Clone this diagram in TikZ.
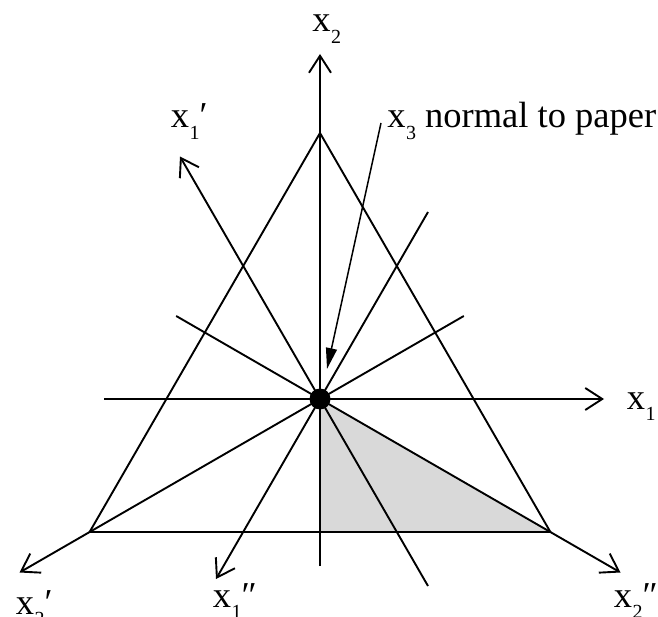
\documentclass[tikz,border=0pt]{standalone}
\usepackage{fontspec}
\setmainfont{Liberation Serif}
\usetikzlibrary{arrows.meta}
\newcommand\axlbl[2]{x\kern0.01em\raisebox{-0.32em}{\fontsize{20}{20}\selectfont #1}#2}
\begin{document}
\begin{tikzpicture}[x=1pt,y=-1pt,line width=1.9pt,
  ax/.style={-{Straight Barb[length=17pt,width=22pt]}},
  lab/.style={anchor=base west,inner sep=0pt,font=\fontsize{36.5}{40}\selectfont}]
\useasboundingbox (0,0) rectangle (658,617);
% centre and triangle
\coordinate (C) at (320,399);
\coordinate (A) at (320,133);
\coordinate (B) at (89.6,532);
\coordinate (D) at (550.4,532);
\coordinate (F) at (320,532);
% line ends
\coordinate (e0) at (604,399);   \coordinate (e180) at (104,399);
\coordinate (e90) at (320,54);   \coordinate (e270) at (320,566);
\coordinate (e120) at (180,156.5); \coordinate (e300) at (428,586);
\coordinate (e60) at (428,212);  \coordinate (e240) at (216,579);
\coordinate (e30) at (463.8,316); \coordinate (e210) at (19.5,572.5);
\coordinate (e150) at (176.2,316); \coordinate (e330) at (620.5,572.5);
% shaded region
\fill[gray!30] (C) -- (D) -- (F) -- cycle;
% triangle
\draw (A) -- (B) -- (D) -- cycle;
% axes and lines
\draw[ax] (e180) -- (e0);
\draw[ax] (e270) -- (e90);
\draw[ax] (e300) -- (e120);
\draw[ax] (e60) -- (e240);
\draw[ax] (e30) -- (e210);
\draw[ax] (e150) -- (e330);
% origin
\node[circle,fill=black,inner sep=0pt,minimum size=21pt] (O) at (C) {};
% pointer
\coordinate (p0) at (381,123);
\coordinate (p1) at (327,369);
\draw[line width=1.5pt,-{Triangle[length=21pt,width=11pt]}] (p0) -- (p1);
% labels
\node[lab] (l2) at (311.5,31.5) {\axlbl{2}{}};
\node[lab] (l1p) at (170,128) {\axlbl{1}{′}};
\node[lab] (l1) at (626,409) {\axlbl{1}{}};
\node[lab] (l2p) at (15,614) {\axlbl{2}{′}};
\node[lab] (l1pp) at (212,607) {\axlbl{1}{″}};
\node[lab] (l2pp) at (613,607) {\axlbl{2}{″}};
\node[lab] (l3) at (386.5,128) {\axlbl{3}{} normal to paper};
\end{tikzpicture}
\end{document}
